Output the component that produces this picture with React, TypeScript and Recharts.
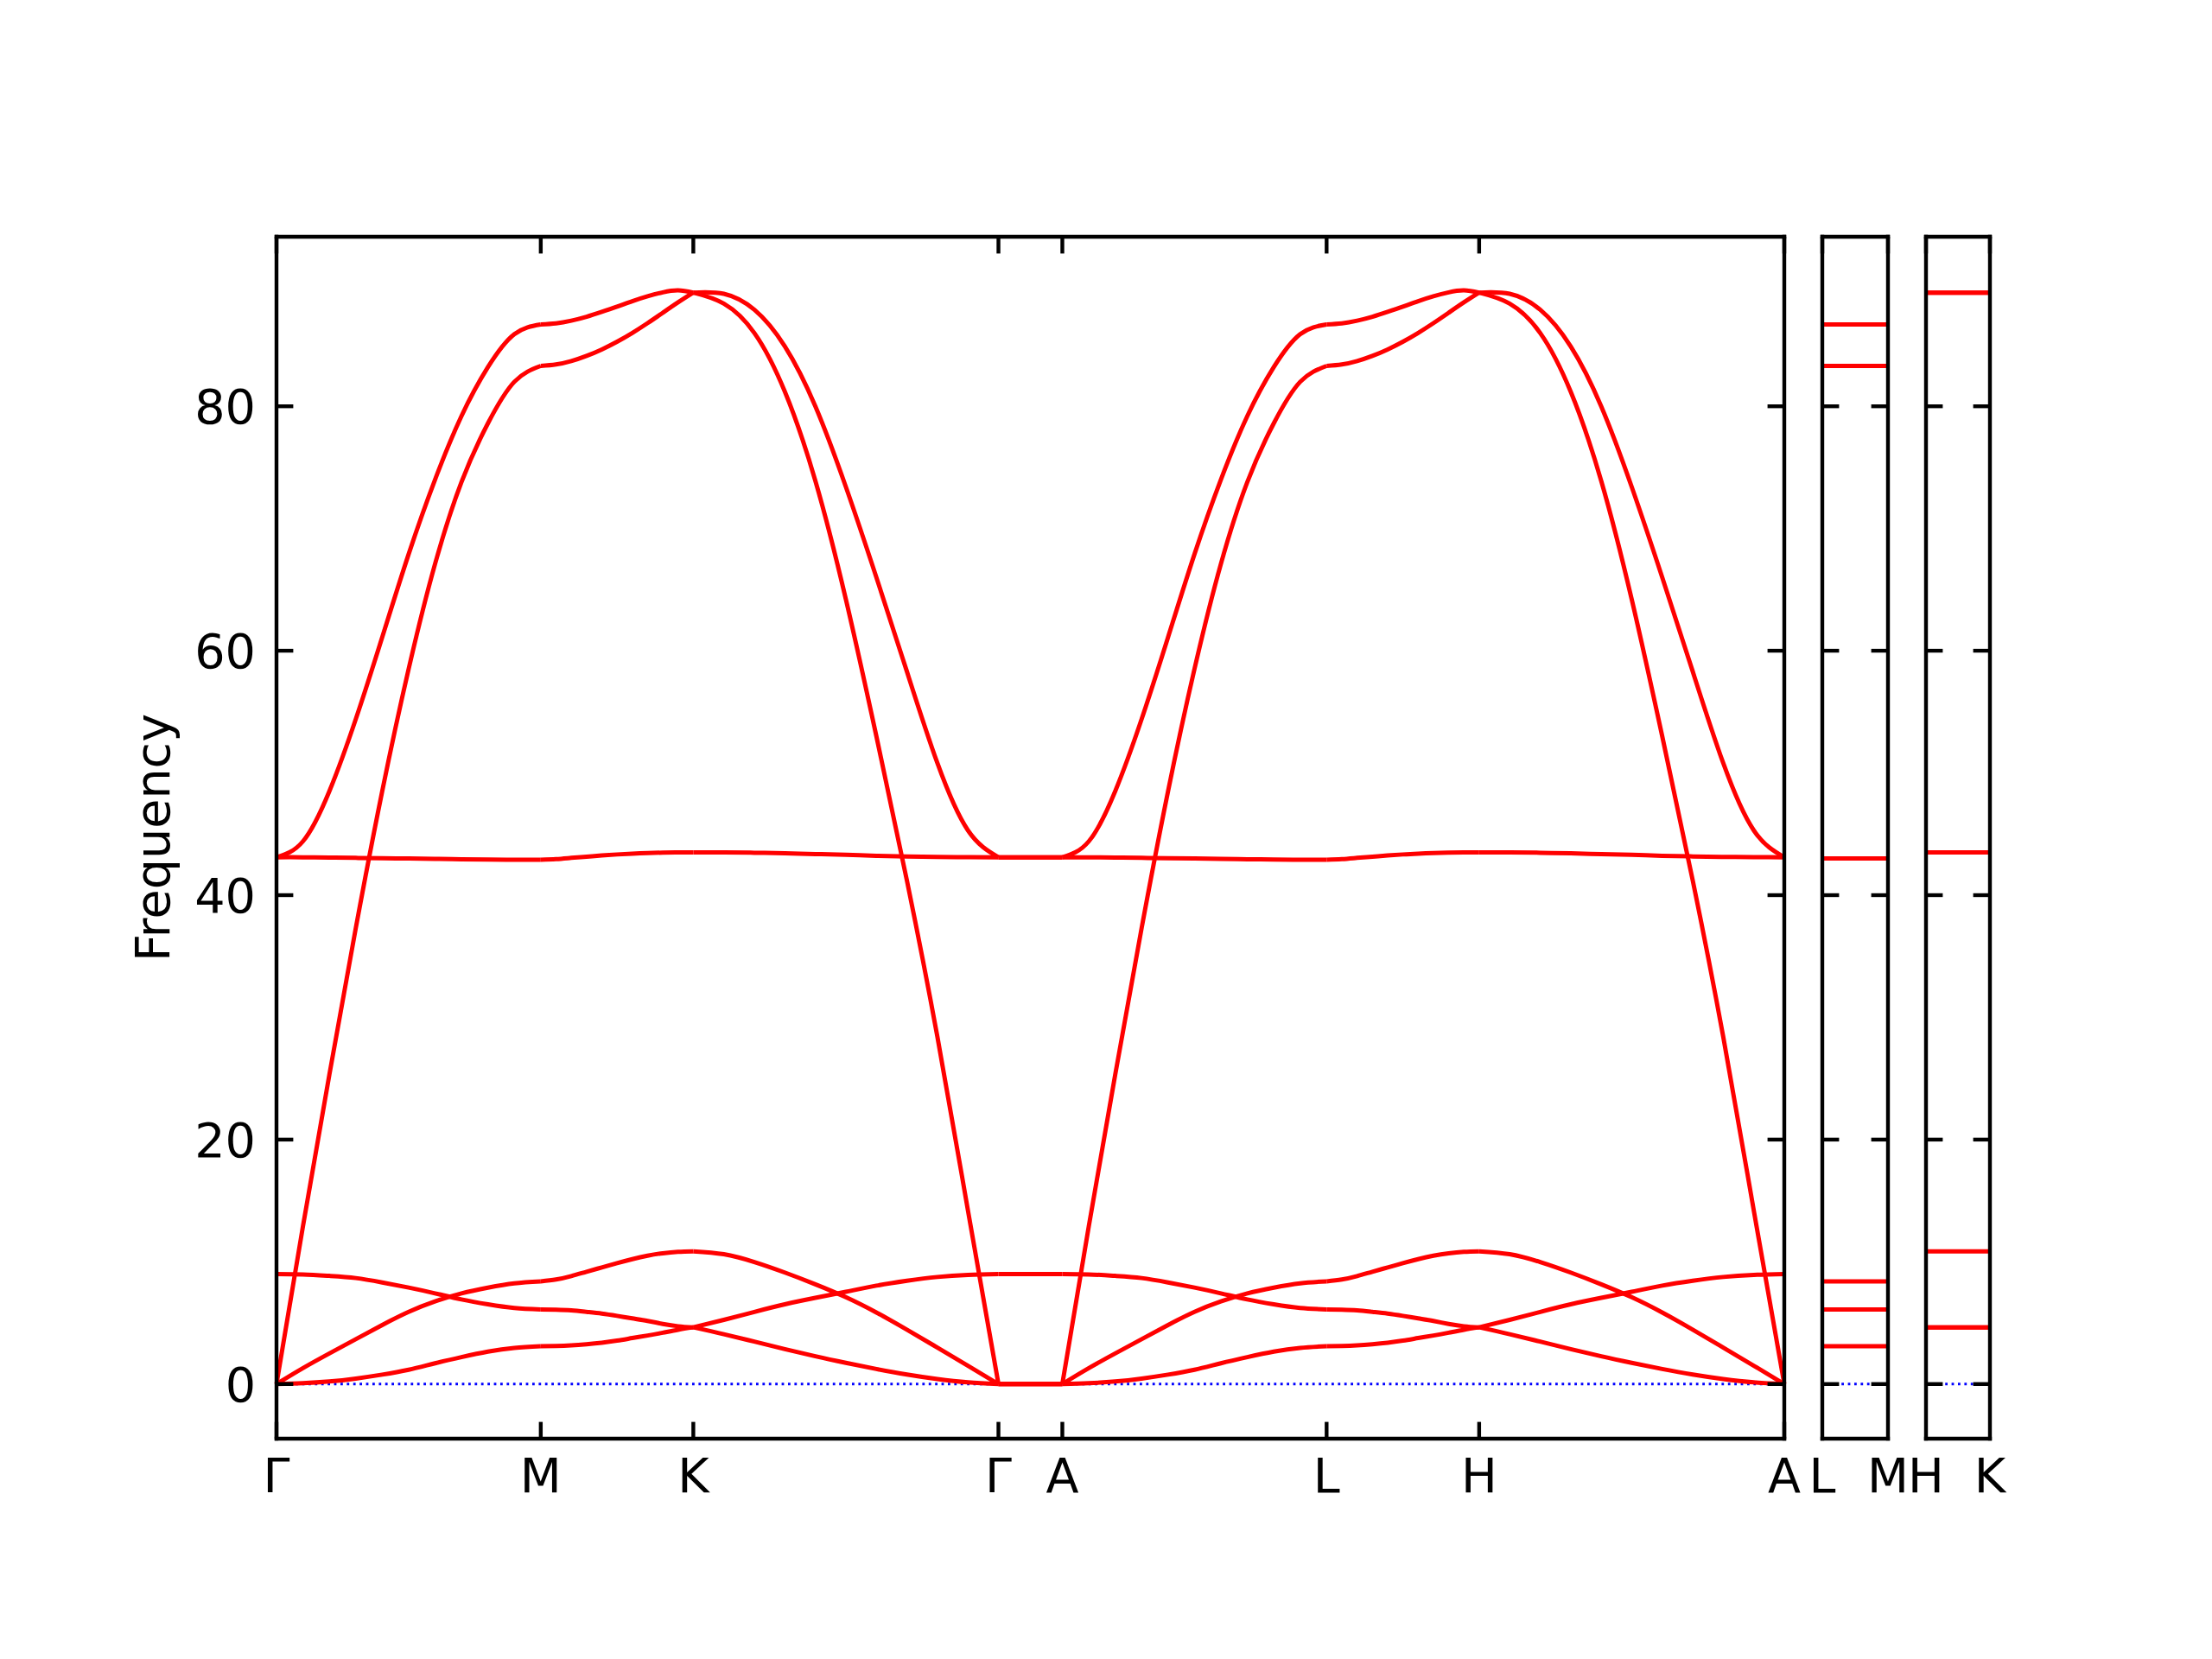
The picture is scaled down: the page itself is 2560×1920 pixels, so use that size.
import React from 'react';
import { Line, LineChart, XAxis, YAxis } from 'recharts';

// high-symmetry points along the main path (path-length units)
const pathLabels = ['Γ', 'M', 'K', 'Γ', 'A', 'L', 'H', 'A'];
const pathTicks = [0, 0.5774, 0.9107, 1.5774, 1.717, 2.2944, 2.6277, 3.2944];
const sideLength = 0.1396;
const yTicks = [0, 20, 40, 60, 80];
const yDomain: [number, number] = [-4.47, 93.87];

// sample fractions along each segment
const steps = [0, 0.1, 0.2, 0.3, 0.4, 0.5, 0.6, 0.7, 0.8, 0.9, 1];

// Γ -> M (same curves are seen on A -> L)
const bandsGM = [
  [0, 0.07, 0.21, 0.45, 0.77, 1.17, 1.7, 2.2, 2.65, 2.96, 3.1],
  [0, 1.3, 2.5, 3.67, 4.83, 5.91, 6.76, 7.42, 7.89, 8.24, 8.4],
  [9.0, 8.97, 8.85, 8.67, 8.31, 7.89, 7.42, 6.92, 6.52, 6.22, 6.1],
  [43.1, 43.1, 43.08, 43.05, 43.02, 43.0, 42.97, 42.94, 42.92, 42.9, 42.9],
  [0, 12.9, 25.3, 37.3, 48.5, 58.5, 67.1, 73.8, 78.6, 82.0, 83.3],
  [43.1, 44.4, 48.5, 54.4, 61.1, 67.9, 74.0, 79.2, 83.2, 85.9, 86.7],
];

// M -> K (same on L -> H)
const bandsMK = [
  [3.1, 3.12, 3.17, 3.26, 3.38, 3.55, 3.76, 3.97, 4.2, 4.44, 4.64],
  [8.4, 8.55, 8.83, 9.19, 9.54, 9.89, 10.22, 10.5, 10.7, 10.82, 10.86],
  [6.1, 6.08, 6.03, 5.91, 5.77, 5.58, 5.37, 5.16, 4.92, 4.73, 4.64],
  [42.9, 42.95, 43.05, 43.15, 43.25, 43.33, 43.4, 43.45, 43.48, 43.5, 43.5],
  [83.3, 83.42, 83.7, 84.12, 84.65, 85.28, 86.0, 86.8, 87.65, 88.5, 89.3],
  [86.7, 86.78, 87.0, 87.32, 87.72, 88.15, 88.6, 89.0, 89.32, 89.48, 89.3],
];

// K -> Γ (same on H -> A)
const bandsKG = [
  [4.64, 4.08, 3.47, 2.86, 2.27, 1.73, 1.23, 0.78, 0.41, 0.14, 0],
  [10.86, 10.62, 9.98, 9.12, 8.16, 7.1, 5.85, 4.45, 2.98, 1.5, 0],
  [4.64, 5.25, 5.9, 6.52, 7.05, 7.55, 8.05, 8.45, 8.76, 8.93, 9.0],
  [43.5, 43.5, 43.47, 43.42, 43.36, 43.3, 43.22, 43.17, 43.13, 43.11, 43.1],
  [89.3, 88.4, 86.0, 81.2, 73.9, 64.2, 53.0, 41.2, 28.4, 14.2, 0],
  [89.3, 89.2, 87.9, 84.9, 80.0, 73.4, 66.0, 58.3, 50.8, 45.3, 43.1],
];

// flat segments
const bandsGA = [0, 0, 0, 9.0, 43.1, 43.1];
const bandsLM = [3.1, 6.1, 8.4, 43.0, 83.3, 86.7];
const bandsHK = [4.64, 4.64, 10.86, 43.5, 89.3, 89.3];

type Pt = { q: number; f: number };

const mainSegments: [number, number, number[][]][] = [
  [0, 1, bandsGM],
  [1, 2, bandsMK],
  [2, 3, bandsKG],
  [4, 5, bandsGM],
  [5, 6, bandsMK],
  [6, 7, bandsKG],
];

const mainSeries: Pt[][] = [];
mainSegments.forEach(([a, b, bands]) => {
  const x0 = pathTicks[a];
  const x1 = pathTicks[b];
  bands.forEach((band) => {
    mainSeries.push(band.map((f, i) => ({ q: x0 + steps[i] * (x1 - x0), f })));
  });
});
bandsGA.forEach((f) => {
  mainSeries.push([
    { q: pathTicks[3], f },
    { q: pathTicks[4], f },
  ]);
});

const flatSeries = (vals: number[]): Pt[][] =>
  vals.map((f) => [
    { q: 0, f },
    { q: sideLength, f },
  ]);

const FONT = 'DejaVu Sans';
const FS = 55.6;
const spine = { stroke: '#000', strokeWidth: 4.4, strokeLinecap: 'square' as const };
const tickLn = { stroke: '#000', strokeWidth: 4.4 };
const labelTick = { fill: '#000', fontSize: FS, fontFamily: FONT };
const NoTick = () => <g />;

const FrequencyLabel = () => (
  <text
    x={196}
    y={969.5}
    transform="rotate(-90 196 969.5)"
    textAnchor="middle"
    fill="#000"
    fontSize={FS}
    fontFamily={FONT}
  >
    Frequency
  </text>
);

const bandLine = (data: Pt[], key: string) => (
  <Line
    key={key}
    data={data}
    dataKey="f"
    xAxisId="x"
    yAxisId="y"
    type="natural"
    stroke="#ff0000"
    strokeWidth={5}
    dot={false}
    activeDot={false}
    isAnimationActive={false}
  />
);

const zeroLine = (end: number) => (
  <Line
    key="zero"
    data={[
      { q: 0, f: 0 },
      { q: end, f: 0 },
    ]}
    dataKey="f"
    xAxisId="x"
    yAxisId="y"
    type="linear"
    stroke="#0000ff"
    strokeWidth={2.8}
    strokeDasharray="2.8 4.6"
    dot={false}
    activeDot={false}
    isAnimationActive={false}
  />
);

// invisible series so the tick-only axes have something bound to them
const ghostLine = (end: number, xId: string, yId: string) => (
  <Line
    key={`ghost-${xId}-${yId}`}
    data={[
      { q: 0, f: 0 },
      { q: end, f: 0 },
    ]}
    dataKey="f"
    xAxisId={xId}
    yAxisId={yId}
    stroke="none"
    dot={false}
    activeDot={false}
    isAnimationActive={false}
  />
);

const nearestLabel = (labels: string[], ticks: number[]) => (v: number) => {
  let best = 0;
  ticks.forEach((t, i) => {
    if (Math.abs(t - v) < Math.abs(ticks[best] - v)) best = i;
  });
  return labels[best];
};

type SideProps = { left: number; plotWidth: number; labels: string[]; vals: number[] };

const SidePanel: React.FC<SideProps> = ({ left, plotWidth, labels, vals }) => {
  const ticks = [0, sideLength];
  return (
    <div style={{ position: 'absolute', left, top: 0 }}>
      <LineChart
        width={180}
        height={1800}
        margin={{ top: 274, left: 59, right: 180 - 59 - plotWidth, bottom: 55 }}
        style={{ fontFamily: FONT }}
      >
        <XAxis
          xAxisId="x"
          dataKey="q"
          type="number"
          domain={[0, sideLength]}
          ticks={ticks}
          interval={0}
          tickFormatter={nearestLabel(labels, ticks)}
          tick={labelTick}
          tickLine={false}
          tickSize={0}
          tickMargin={23}
          axisLine={spine}
          height={80}
        />
        <XAxis xAxisId="xt" dataKey="q" type="number" orientation="top" mirror domain={[0, sideLength]} ticks={ticks} interval={0} tick={NoTick} tickLine={tickLn} tickSize={19.4} axisLine={spine} />
        <YAxis
          yAxisId="y"
          type="number"
          domain={yDomain}
          ticks={yTicks}
          interval={0}
          mirror
          tick={NoTick}
          tickLine={tickLn}
          tickSize={19.4}
          axisLine={spine}
        />
        <YAxis yAxisId="yr" type="number" orientation="right" mirror domain={yDomain} ticks={yTicks} interval={0} tick={NoTick} tickLine={tickLn} tickSize={19.4} axisLine={spine} />
        {ghostLine(sideLength, 'xt', 'yr')}
        {zeroLine(sideLength)}
        {flatSeries(vals).map((d, i) => bandLine(d, `s${i}`))}
      </LineChart>
    </div>
  );
};

export default function App() {
  const xEnd = pathTicks[pathTicks.length - 1];
  return (
    <div style={{ position: 'absolute', left: 0, top: 0, width: 2560, height: 1920, background: '#fff' }}>
      <div style={{ position: 'absolute', left: 0, top: 0 }}>
        <LineChart
          width={2100}
          height={1800}
          margin={{ top: 274, right: 35, bottom: 55, left: 200 }}
          style={{ fontFamily: FONT }}
        >
          <XAxis
            xAxisId="x"
            dataKey="q"
            type="number"
            domain={[0, xEnd]}
            ticks={pathTicks}
            interval={0}
            tickFormatter={nearestLabel(pathLabels, pathTicks)}
            tick={labelTick}
            tickLine={false}
            tickSize={0}
            tickMargin={23}
            axisLine={spine}
            height={80}
          />
          <XAxis xAxisId="xb" dataKey="q" type="number" mirror domain={[0, xEnd]} ticks={pathTicks} interval={0} tick={NoTick} tickLine={tickLn} tickSize={19.4} axisLine={false} />
          <XAxis xAxisId="xt" dataKey="q" type="number" orientation="top" mirror domain={[0, xEnd]} ticks={pathTicks} interval={0} tick={NoTick} tickLine={tickLn} tickSize={19.4} axisLine={spine} />
          <YAxis
            yAxisId="y"
            type="number"
            domain={yDomain}
            ticks={yTicks}
            interval={0}
            width={120}
            tick={labelTick}
            tickLine={false}
            tickSize={0}
            tickMargin={24}
            axisLine={spine}
            label={FrequencyLabel}
          />
          <YAxis yAxisId="yl" type="number" mirror domain={yDomain} ticks={yTicks} interval={0} tick={NoTick} tickLine={tickLn} tickSize={19.4} axisLine={false} />
          <YAxis yAxisId="yr" type="number" orientation="right" mirror domain={yDomain} ticks={yTicks} interval={0} tick={NoTick} tickLine={tickLn} tickSize={19.4} axisLine={spine} />
          {ghostLine(xEnd, 'xt', 'yl')}
          {ghostLine(xEnd, 'xb', 'yr')}
          {zeroLine(xEnd)}
          {mainSeries.map((d, i) => bandLine(d, `b${i}`))}
        </LineChart>
      </div>
      <SidePanel left={2050} plotWidth={76} labels={['L', 'M']} vals={bandsLM} />
      <SidePanel left={2170} plotWidth={74} labels={['H', 'K']} vals={bandsHK} />
    </div>
  );
}
